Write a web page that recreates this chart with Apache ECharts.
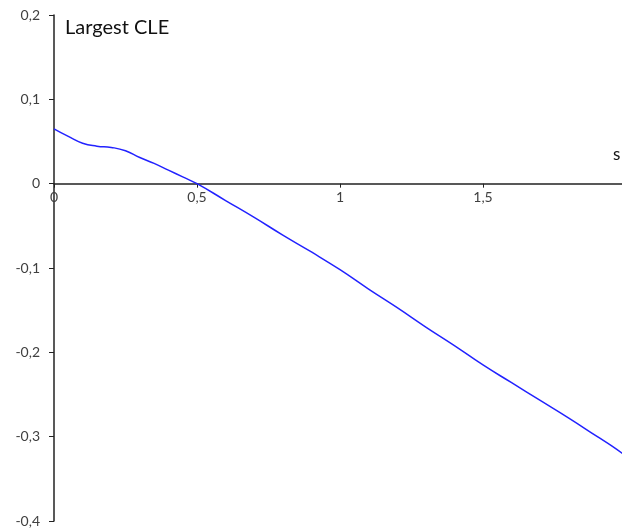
<!DOCTYPE html>
<html>
<head>
<meta charset="utf-8">
<script src="https://cdn.jsdelivr.net/npm/echarts@6/dist/echarts.min.js"></script>
<style>
html, body { margin: 0; padding: 0; background: #fff; }
#chart { width: 622px; height: 530px; }
</style>
</head>
<body>
<div id="chart"></div>
<script>
// values
var sValues = [0, 0.05, 0.1, 0.15, 0.2, 0.25, 0.3, 0.35, 0.4, 0.45, 0.5,
    0.6, 0.7, 0.8, 0.9, 1.0, 1.1, 1.2, 1.3, 1.4, 1.5,
    1.6, 1.7, 1.8, 1.9, 1.95, 2.0];
var cleValues = [0.065, 0.056, 0.048, 0.0445, 0.043, 0.039, 0.031, 0.024, 0.016, 0.008, 0,
    -0.020, -0.040, -0.061, -0.081, -0.102, -0.125, -0.147, -0.170, -0.192, -0.215,
    -0.236, -0.257, -0.278, -0.300, -0.311, -0.323];

var points = [];
for (var i = 0; i < sValues.length; i++) {
    points.push([sValues[i], cleValues[i]]);
}

function commaFmt(v) {
    var r = Math.round(v * 10) / 10;
    return String(r).replace('.', ',');
}

var yMin = -0.4, yMax = 0.2;
var gridTop = 15, gridBottom = 9, chartH = 530;
// move the x axis from the grid bottom up to y = 0
var zeroOffset = -((chartH - gridBottom - gridTop) * (0 - yMin) / (yMax - yMin));

var chart = echarts.init(document.getElementById('chart'));
var option = {
    animation: false,
    title: {
        text: 'Largest CLE',
        left: 60,
        top: 13,
        textStyle: {
            fontFamily: 'Lato',
            fontSize: 20,
            fontWeight: 'normal',
            color: '#111'
        }
    },
    grid: {
        left: 54,
        top: gridTop,
        bottom: gridBottom,
        right: -4,
        containLabel: false,
        outerBoundsMode: 'none'
    },
    xAxis: {
        type: 'value',
        min: 0,
        max: 2,
        interval: 0.5,
        offset: zeroOffset,
        axisLine: { onZero: false, lineStyle: { color: '#222', width: 1.5 } },
        axisTick: { show: true, inside: false, length: 4, lineStyle: { color: '#222' } },
        axisLabel: {
            formatter: commaFmt,
            margin: 7,
            showMaxLabel: true,
            fontFamily: 'Lato',
            fontSize: 14,
            color: '#404040'
        },
        splitLine: { show: false }
    },
    yAxis: {
        type: 'value',
        min: yMin,
        max: yMax,
        interval: 0.1,
        axisLine: { show: true, onZero: false, lineStyle: { color: '#222', width: 1.5 } },
        axisTick: { show: true, length: 5, lineStyle: { color: '#222' } },
        axisLabel: {
            formatter: commaFmt,
            margin: 14,
            fontFamily: 'Lato',
            fontSize: 14,
            color: '#404040'
        },
        splitLine: { show: false }
    },
    graphic: [{
        type: 'text',
        left: 613,
        top: 146,
        style: {
            text: 's',
            fontFamily: 'Lato',
            fontSize: 17,
            fill: '#111'
        }
    }],
    series: [{
        type: 'line',
        data: points,
        smooth: true,
        showSymbol: false,
        lineStyle: { color: '#2222ff', width: 1.5 }
    }]
};
chart.setOption(option);
</script>
</body>
</html>
